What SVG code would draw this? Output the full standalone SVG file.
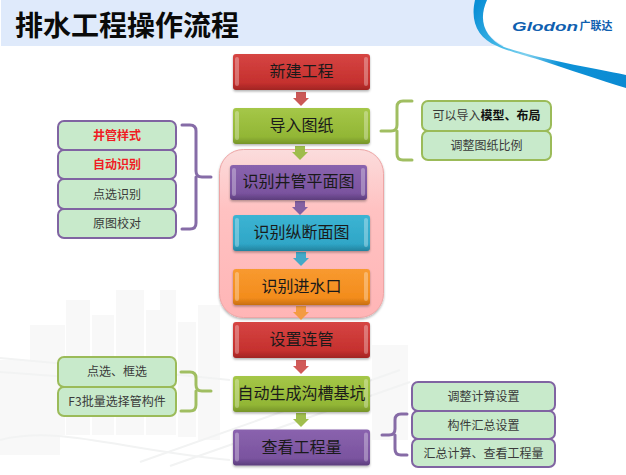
<svg xmlns="http://www.w3.org/2000/svg" width="626" height="475" viewBox="0 0 626 475">
<style>
text{font-family:"Noto Sans CJK SC","Noto Sans",sans-serif;text-anchor:middle}
.big{font-size:16px;fill:#1a1a1a}
.small{font-size:12px;fill:#3a3a3a}
.hot{font-weight:700;fill:#f01c24}
.title{font-size:28px;font-weight:700;fill:#0a0a0a;text-anchor:start}
.sub-g{fill:#c8eacb;stroke:#9bbb59;stroke-width:2}
.sub-p{fill:#c8eacb;stroke:#8064a2;stroke-width:2}
.brace{fill:none;stroke-width:3;stroke-linecap:round;stroke-linejoin:round}
.bevel{fill:#fff;opacity:.3}
.city{fill:#f8f8f8}
.road{fill:none;stroke:#f2f3f3;stroke-width:2}
</style>
<defs>
<linearGradient id="red" x1="0" y1="0" x2="0" y2="1"><stop offset="0" stop-color="#d64543"/><stop offset=".8" stop-color="#c5302e"/><stop offset="1" stop-color="#a12523"/></linearGradient>
<linearGradient id="green" x1="0" y1="0" x2="0" y2="1"><stop offset="0" stop-color="#a5c748"/><stop offset=".8" stop-color="#92b635"/><stop offset="1" stop-color="#769429"/></linearGradient>
<linearGradient id="purple" x1="0" y1="0" x2="0" y2="1"><stop offset="0" stop-color="#8a63ae"/><stop offset=".8" stop-color="#7a539f"/><stop offset="1" stop-color="#5c3d7c"/></linearGradient>
<linearGradient id="cyan" x1="0" y1="0" x2="0" y2="1"><stop offset="0" stop-color="#3cb4d3"/><stop offset=".8" stop-color="#2fa6c7"/><stop offset="1" stop-color="#23829e"/></linearGradient>
<linearGradient id="orange" x1="0" y1="0" x2="0" y2="1"><stop offset="0" stop-color="#f89a30"/><stop offset=".8" stop-color="#f38c1c"/><stop offset="1" stop-color="#c86f10"/></linearGradient>
<linearGradient id="pink" x1="0" y1="0" x2="0" y2="1"><stop offset="0" stop-color="#fbdcdc"/><stop offset=".35" stop-color="#ffc2c2"/><stop offset="1" stop-color="#ffb5b6"/></linearGradient>
<linearGradient id="swoosh" gradientUnits="userSpaceOnUse" x1="480" y1="0" x2="626" y2="80"><stop offset="0" stop-color="#0a8fd6"/><stop offset=".25" stop-color="#49bce8"/><stop offset=".4" stop-color="#7fd0ee"/><stop offset=".6" stop-color="#0e93d8"/><stop offset="1" stop-color="#0b8ad2"/></linearGradient>
<filter id="soft" x="-10%" y="-10%" width="120%" height="125%"><feDropShadow dx="0" dy="1.5" stdDeviation="1.2" flood-color="#000" flood-opacity=".3"/></filter>
<path id="arrow" d="M-5,0H5V6H8L0,14L-8,6H-5Z"/>
</defs>

<rect width="626" height="475" fill="#fff"/>

<!-- pale skyline and elevated roads behind the flow -->
<g id="skyline">
<rect class="city" x="30" y="325" width="35" height="110"/>
<rect class="city" x="66" y="300" width="24" height="135"/>
<rect class="city" x="92" y="315" width="22" height="120"/>
<rect class="city" x="116" y="290" width="28" height="145"/>
<rect class="city" x="146" y="310" width="14" height="125"/>
<rect class="city" x="160" y="290" width="16" height="145"/>
<rect class="city" x="178" y="322" width="18" height="115"/>
<rect class="city" x="198" y="305" width="22" height="135"/>
<rect class="city" x="0" y="360" width="60" height="95"/>
<rect class="city" x="372" y="345" width="36" height="95"/>
<path class="road" d="M0,358L110,368L230,380"/>
<path class="road" d="M0,372L110,380"/>
<path class="road" d="M0,440C60,425 120,450 230,460"/>
<path class="road" d="M140,462L400,370"/>
<path class="road" d="M170,466L410,382"/>
</g>

<!-- header band and logo -->
<g id="header">
<rect x="1" y="0" width="625" height="46" fill="#dfeafb"/>
<path d="M487,0C478,20 484,36 504,46C530,58 580,68 626,76V0Z" fill="#fff"/>
<path d="M475,0C470,22 478,38 497,46C505,50 520,54 540,60C570,70 600,80 626,88V75C590,68 535,58 504,47C484,37 478,20 487,0Z" fill="url(#swoosh)"/>
<text class="title" x="15" y="36">排水工程操作流程</text>
<text x="545" y="30.500" textLength="66" lengthAdjust="spacingAndGlyphs" style="font-family:'Liberation Sans',sans-serif;font-size:12px;font-weight:700;font-style:italic;fill:#0f5fb0">Glodon</text>
<text x="596" y="30" style="font-size:11px;font-weight:700;fill:#0f5fb0">广联达</text>
</g>

<g id="group-recognise"><rect x="219.500" y="149.500" width="164" height="168" rx="24" fill="url(#pink)" stroke="#eda5a5" filter="url(#soft)"/></g>

<g id="connectors" opacity=".95">
<use href="#arrow" x="301" y="92" fill="#c9504e"/>
<use href="#arrow" x="300" y="146" fill="#9bbb45"/>
<use href="#arrow" x="300" y="201" fill="#7d5ba2"/>
<use href="#arrow" x="301" y="252" fill="#3aa9c9"/>
<use href="#arrow" x="301" y="306" fill="#f39a3c"/>
<use href="#arrow" x="301" y="360" fill="#cf5250"/>
<use href="#arrow" x="301" y="413" fill="#9bbb45"/>
<path class="brace" stroke="#8064a2" d="M182,125H190Q196,125 196,131V171Q196,177 202,177H211M196,177V223Q196,229 190,229H182"/>
<path class="brace" stroke="#9bbb59" d="M412,101H403Q397,101 397,107V125Q397,131 391,131H381M397,131V154Q397,160 403,160H412"/>
<path class="brace" stroke="#9bbb59" d="M181,372H190Q196,372 196,378V385Q196,391 202,391H211M196,391V405Q196,411 190,411H181"/>
<path class="brace" stroke="#8064a2" d="M407,414H401Q395,414 395,420V429Q395,435 389,435H382M395,435V449Q395,455 401,455H407"/>
</g>

<g id="new-project">
<rect x="233" y="54" width="137" height="36" rx="3" fill="url(#red)" filter="url(#soft)"/>
<rect class="bevel" x="235" y="57" width="4" height="29" rx="2"/><rect class="bevel" x="364" y="57" width="4" height="29" rx="2"/>
<text class="big" x="301.500" y="77">新建工程</text>
</g>
<g id="import-drawing">
<rect x="233" y="108" width="137" height="36" rx="3" fill="url(#green)" filter="url(#soft)"/>
<rect class="bevel" x="235" y="111" width="4" height="29" rx="2"/><rect class="bevel" x="364" y="111" width="4" height="29" rx="2"/>
<text class="big" x="301.500" y="131">导入图纸</text>
</g>
<g id="well-plan">
<rect x="230" y="165" width="137" height="35" rx="3" fill="url(#purple)" filter="url(#soft)"/>
<rect class="bevel" x="232" y="168" width="4" height="28" rx="2"/><rect class="bevel" x="361" y="168" width="4" height="28" rx="2"/>
<text class="big" x="298.500" y="187">识别井管平面图</text>
</g>
<g id="long-section">
<rect x="233" y="215" width="137" height="36" rx="3" fill="url(#cyan)" filter="url(#soft)"/>
<rect class="bevel" x="235" y="218" width="4" height="29" rx="2"/><rect class="bevel" x="364" y="218" width="4" height="29" rx="2"/>
<text class="big" x="301.500" y="238">识别纵断面图</text>
</g>
<g id="inlet">
<rect x="233" y="269" width="137" height="36" rx="3" fill="url(#orange)" filter="url(#soft)"/>
<rect class="bevel" x="235" y="272" width="4" height="29" rx="2"/><rect class="bevel" x="364" y="272" width="4" height="29" rx="2"/>
<text class="big" x="301.500" y="292">识别进水口</text>
</g>
<g id="connect-pipes">
<rect x="233" y="322" width="137" height="36" rx="3" fill="url(#red)" filter="url(#soft)"/>
<rect class="bevel" x="235" y="325" width="4" height="29" rx="2"/><rect class="bevel" x="364" y="325" width="4" height="29" rx="2"/>
<text class="big" x="301.500" y="345">设置连管</text>
</g>
<g id="trench">
<rect x="233" y="376" width="137" height="36" rx="3" fill="url(#green)" filter="url(#soft)"/>
<rect class="bevel" x="235" y="379" width="4" height="29" rx="2"/><rect class="bevel" x="364" y="379" width="4" height="29" rx="2"/>
<text class="big" x="301.500" y="399">自动生成沟槽基坑</text>
</g>
<g id="quantities">
<rect x="233" y="429.500" width="137" height="36" rx="3" fill="url(#purple)" filter="url(#soft)"/>
<rect class="bevel" x="235" y="432.500" width="4" height="29" rx="2"/><rect class="bevel" x="364" y="432.500" width="4" height="29" rx="2"/>
<text class="big" x="301.500" y="453">查看工程量</text>
</g>

<g id="well-style"><rect class="sub-p" x="58" y="121" width="118" height="29" rx="6"/><text class="small hot" x="117" y="140">井管样式</text></g>
<g id="auto-recognise"><rect class="sub-p" x="58" y="150" width="118" height="29" rx="6"/><text class="small hot" x="117" y="169">自动识别</text></g>
<g id="pick-recognise"><rect class="sub-p" x="58" y="179" width="118" height="30" rx="6"/><text class="small" x="117" y="199">点选识别</text></g>
<g id="check-source"><rect class="sub-p" x="58" y="209" width="118" height="29" rx="6"/><text class="small" x="117" y="228">原图校对</text></g>

<g id="import-layout"><rect class="sub-g" x="422" y="101" width="129" height="30" rx="6"/><text class="small" x="486.500" y="120">可以导入<tspan font-weight="700" fill="#111">模型、布局</tspan></text></g>
<g id="scale"><rect class="sub-g" x="422" y="131" width="129" height="29" rx="6"/><text class="small" x="486.500" y="150">调整图纸比例</text></g>

<g id="pick-box"><rect class="sub-g" x="58" y="357" width="118" height="30" rx="6"/><text class="small" x="117" y="376">点选、框选</text></g>
<g id="f3-select"><rect class="sub-g" x="58" y="387" width="118" height="29" rx="6"/><text class="small" x="117" y="406">F3批量选择管构件</text></g>

<g id="calc-settings"><rect class="sub-p" x="412" y="382" width="143" height="29" rx="6"/><text class="small" x="483.500" y="401">调整计算设置</text></g>
<g id="summary-settings"><rect class="sub-p" x="412" y="411" width="143" height="28" rx="6"/><text class="small" x="483.500" y="430">构件汇总设置</text></g>
<g id="calc-view"><rect class="sub-p" x="412" y="439" width="143" height="28" rx="6"/><text class="small" x="483.500" y="458">汇总计算、查看工程量</text></g>
</svg>
